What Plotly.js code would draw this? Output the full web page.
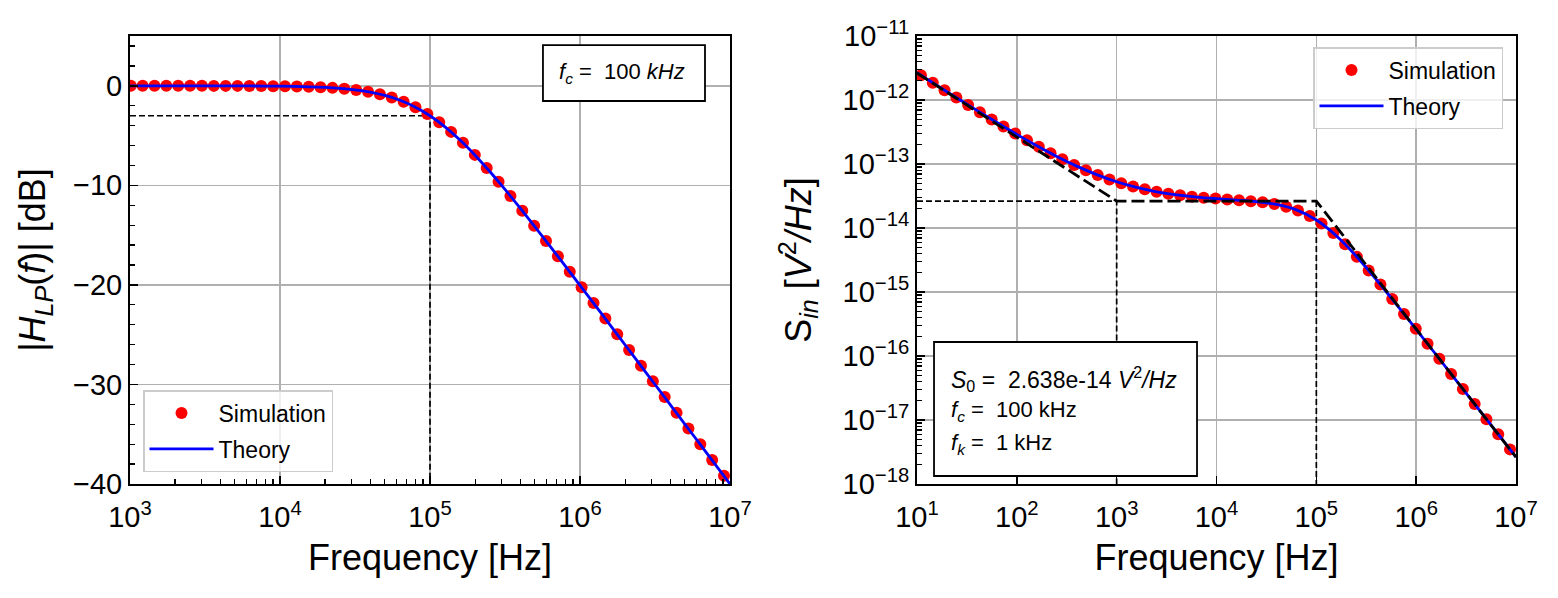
<!DOCTYPE html>
<html><head><meta charset="utf-8">
<script src="https://cdn.plot.ly/plotly-3.0.1.min.js"></script>
<style>html,body{margin:0;padding:0;background:#fff}#chart{width:1558px;height:598px}</style>
</head><body><div id="chart"></div>
<script>
// ---------- Left panel: low-pass transfer function ----------
const lpSimFreq = [1012, 1214, 1457, 1747, 2096, 2515, 3017, 3620, 4343, 5211,
  6252, 7501, 9000, 10797, 12954, 15541, 18646, 22371, 26840, 32200,
  38637, 46355, 55615, 66725, 80054, 96050, 115239, 138260, 165880, 199020,
  238780, 286480, 343710, 412370, 494750, 593590, 712170, 854440, 1025000, 1230000,
  1476000, 1771000, 2125000, 2550000, 3059000, 3670000, 4403000, 5282000, 6338000, 7604000, 9120000];
const lpSimGain = [0.00, 0.00, 0.00, 0.00, 0.00, 0.00, 0.00, -0.01, -0.01, -0.01,
  -0.02, -0.02, -0.04, -0.05, -0.07, -0.10, -0.15, -0.21, -0.30, -0.43,
  -0.60, -0.85, -1.17, -1.60, -2.15, -2.83, -3.66, -4.63, -5.73, -6.94,
  -8.26, -9.64, -11.07, -12.55, -14.05, -15.58, -17.12, -18.68, -20.24, -21.81,
  -23.38, -24.95, -26.53, -28.11, -29.68, -31.26, -32.84, -34.42, -36.00, -37.58, -39.16];
const lpTheoryFreq = [1000, 1259, 1585, 1995, 2512, 3162, 3981, 5012, 6310, 7943,
  10000, 12589, 15849, 19953, 25119, 31623, 39811, 50119, 63096, 79433,
  100000, 125893, 158489, 199526, 251189, 316228, 398107, 501187, 630957, 794328,
  1000000, 1258925, 1584893, 1995262, 2511886, 3162278, 3981072, 5011872, 6309573, 7943282, 10000000];
const lpTheoryGain = [-0.0004, -0.0007, -0.0011, -0.0017, -0.0027, -0.0043, -0.0069, -0.0109, -0.0173, -0.0273,
  -0.0432, -0.0683, -0.1077, -0.1695, -0.2657, -0.4139, -0.6386, -0.9732, -1.455, -2.125,
  -3.010, -4.124, -5.455, -6.973, -8.639, -10.414, -12.266, -14.170, -16.108, -18.069,
  -20.043, -22.028, -24.017, -26.011, -28.007, -30.004, -32.003, -34.002, -36.001, -38.001, -40.000];
const lpCutoffFreq = 100000;
const lpCutoffGain = -3.01;
const lpGainMin = -40;
const lpFreqMin = 1000;
const lpXTickVals = [1e3, 1e4, 1e5, 1e6, 1e7];
const lpXTickText = ['10<sup>3</sup>', '10<sup>4</sup>', '10<sup>5</sup>', '10<sup>6</sup>', '10<sup>7</sup>'];
const lpYTickVals = [-40, -30, -20, -10, 0];
const lpYTickText = ['\u221240', '\u221230', '\u221220', '\u221210', '0'];

// ---------- Right panel: input noise PSD ----------
const psdSimFreq = [10.96, 14.39, 18.88, 24.77, 32.51, 42.66, 55.98, 73.45, 96.38, 126.5,
  166.0, 217.8, 285.8, 375.0, 492.0, 645.7, 847.2, 1112, 1459, 1914,
  2512, 3296, 4325, 5675, 7447, 9772, 12823, 16827, 22080, 28973,
  38019, 49888, 65464, 85901, 112720, 147910, 194090, 254680, 334190, 438530,
  575440, 755090, 990830, 1300200, 1706100, 2238700, 2937600, 3854800, 5058200, 6637400, 8709600];
const psdSimS = [2.432e-12, 1.860e-12, 1.424e-12, 1.091e-12, 8.38e-13, 6.45e-13, 4.975e-13, 3.855e-13, 3.001e-13, 2.350e-13,
  1.854e-13, 1.475e-13, 1.187e-13, 9.67e-14, 7.99e-14, 6.73e-14, 5.75e-14, 5.01e-14, 4.446e-14, 4.016e-14,
  3.685e-14, 3.436e-14, 3.241e-14, 3.092e-14, 2.976e-14, 2.881e-14, 2.798e-14, 2.718e-14, 2.629e-14, 2.518e-14,
  2.366e-14, 2.155e-14, 1.875e-14, 1.535e-14, 1.172e-14, 8.33e-15, 5.56e-15, 3.540e-15, 2.175e-15, 1.307e-15,
  7.75e-16, 4.55e-16, 2.663e-16, 1.553e-16, 9.04e-17, 5.25e-17, 3.053e-17, 1.775e-17, 1.031e-17, 5.99e-18, 3.477e-18];
const psdTheoryFreq = [10, 15.85, 25.12, 39.81, 63.1, 100, 158.5, 251.2, 398.1, 631,
  1000, 1585, 2512, 3981, 6310, 10000, 15849, 25119, 39811, 63096,
  100000, 158489, 251189, 398107, 630957, 1000000, 1584893, 2511886, 3981072, 6309573, 10000000];
const psdTheoryS = [2.664e-12, 1.691e-12, 1.076e-12, 6.89e-13, 4.445e-13, 2.902e-13, 1.929e-13, 1.314e-13, 9.26e-14, 6.82e-14,
  5.276e-14, 4.302e-14, 3.685e-14, 3.295e-14, 3.043e-14, 2.873e-14, 2.735e-14, 2.580e-14, 2.334e-14, 1.917e-14,
  1.332e-14, 7.56e-15, 3.623e-15, 1.569e-15, 6.47e-16, 2.615e-16, 1.047e-16, 4.175e-17, 1.664e-17, 6.63e-18, 2.638e-18];
const psdAsymFreq = [10, 1000, 100000, 10000000];
const psdAsymS = [2.638e-12, 2.638e-14, 2.638e-14, 2.638e-18];
const psdS0 = 2.638e-14;
const psdKneeFreq = 1000;
const psdCornerFreq = 100000;
const psdFreqMin = 10;
const psdSMin = 1e-18;
const psdXTickVals = [1e1, 1e2, 1e3, 1e4, 1e5, 1e6, 1e7];
const psdXTickText = ['10<sup>1</sup>', '10<sup>2</sup>', '10<sup>3</sup>', '10<sup>4</sup>', '10<sup>5</sup>', '10<sup>6</sup>', '10<sup>7</sup>'];
const psdYTickVals = [1e-18, 1e-17, 1e-16, 1e-15, 1e-14, 1e-13, 1e-12, 1e-11];
const psdYTickText = ['10<sup>\u221218</sup>', '10<sup>\u221217</sup>', '10<sup>\u221216</sup>', '10<sup>\u221215</sup>',
  '10<sup>\u221214</sup>', '10<sup>\u221213</sup>', '10<sup>\u221212</sup>', '10<sup>\u221211</sup>'];

// ---------- drawing ----------
const FONT = 'Liberation Sans, Arial, Helvetica, sans-serif';
function logMinor(d0, d1) { const v = []; for (let d = d0; d < d1; d++) for (let m = 2; m <= 9; m++) v.push(m * Math.pow(10, d)); return v; }
function linMinor(a, b, step) { const v = []; for (let t = a; t <= b; t += step) v.push(t); return v; }

const RED = '#ff0000', BLUE = '#0000ff';
const traces = [
  // left panel
  {x: [lpFreqMin, lpCutoffFreq, lpCutoffFreq], y: [lpCutoffGain, lpCutoffGain, lpGainMin], xaxis: 'x', yaxis: 'y',
   mode: 'lines', line: {color: 'black', width: 1.7, dash: '6px,3px'}, showlegend: false, hoverinfo: 'skip'},
  {x: lpSimFreq, y: lpSimGain, xaxis: 'x', yaxis: 'y', mode: 'markers', name: 'Simulation',
   marker: {color: RED, size: 12}, legend: 'legend', legendgroup: 'a'},
  {x: lpTheoryFreq, y: lpTheoryGain, xaxis: 'x', yaxis: 'y', mode: 'lines', name: 'Theory',
   line: {color: BLUE, width: 2.8, shape: 'spline'}, legend: 'legend', legendgroup: 'b'},
  // right panel
  {x: [psdFreqMin, psdKneeFreq, psdKneeFreq], y: [psdS0, psdS0, psdSMin], xaxis: 'x2', yaxis: 'y2',
   mode: 'lines', line: {color: 'black', width: 1.7, dash: '6px,3px'}, showlegend: false, hoverinfo: 'skip'},
  {x: [psdCornerFreq, psdCornerFreq], y: [psdS0, psdSMin], xaxis: 'x2', yaxis: 'y2',
   mode: 'lines', line: {color: 'black', width: 1.7, dash: '6px,3px'}, showlegend: false, hoverinfo: 'skip'},
  {x: psdSimFreq, y: psdSimS, xaxis: 'x2', yaxis: 'y2', mode: 'markers', name: 'Simulation',
   marker: {color: RED, size: 12}, legend: 'legend2', legendgroup: 'c'},
  {x: psdTheoryFreq, y: psdTheoryS, xaxis: 'x2', yaxis: 'y2', mode: 'lines', name: 'Theory',
   line: {color: BLUE, width: 2.8, shape: 'spline'}, legend: 'legend2', legendgroup: 'd'},
  {x: psdAsymFreq, y: psdAsymS, xaxis: 'x2', yaxis: 'y2', mode: 'lines',
   line: {color: 'black', width: 2.8, dash: '13px,5px'}, showlegend: false, hoverinfo: 'skip'}
];

const axisCommon = {
  showline: true, linecolor: 'black', linewidth: 2, mirror: true,
  ticks: 'inside', ticklen: 8, tickwidth: 1.5, tickcolor: 'black',
  showgrid: true, gridcolor: '#b0b0b0', gridwidth: 1.5, zeroline: false,
  tickfont: {family: FONT, size: 29, color: 'black'}, automargin: false, tickmode: 'array'
};
const minorCommon = {ticks: 'inside', ticklen: 5, tickwidth: 1.3, tickcolor: 'black', showgrid: false, tickmode: 'array'};
const titleFont = {family: FONT, size: 36, color: 'black'};
const yDom = [0.1906, 0.9398];

const legendCommon = {
  bgcolor: 'rgba(255,255,255,0.8)', bordercolor: '#cccccc', borderwidth: 1.5,
  font: {family: FONT, size: 23, color: 'black'}, itemwidth: 64, tracegroupgap: 3
};

const layout = {
  width: 1558, height: 598,
  margin: {l: 0, r: 0, t: 0, b: 0},
  paper_bgcolor: 'white', plot_bgcolor: 'white',
  font: {family: FONT, color: 'black'},
  xaxis: Object.assign({}, axisCommon, {
    type: 'log', domain: [0.08344, 0.46855], range: [3, 7], anchor: 'y',
    tickvals: lpXTickVals, ticktext: lpXTickText, ticklabelstandoff: 6,
    minor: Object.assign({tickvals: logMinor(3, 7)}, minorCommon),
    title: {text: 'Frequency [Hz]', font: titleFont, standoff: 13}
  }),
  yaxis: Object.assign({}, axisCommon, {
    domain: yDom, range: [-40, 5], anchor: 'x',
    tickvals: lpYTickVals, ticktext: lpYTickText,
    minor: Object.assign({tickvals: linMinor(-38, 4, 2)}, minorCommon),
    title: {text: '|<i>H</i><sub><i>LP</i></sub>(<i>f</i>)| [dB]', font: titleFont, standoff: 16}
  }),
  xaxis2: Object.assign({}, axisCommon, {
    type: 'log', domain: [0.58857, 0.97304], range: [1, 7], anchor: 'y2',
    tickvals: psdXTickVals, ticktext: psdXTickText, ticklabelstandoff: 6,
    title: {text: 'Frequency [Hz]', font: titleFont, standoff: 13}
  }),
  yaxis2: Object.assign({}, axisCommon, {
    type: 'log', domain: yDom, range: [-18, -11], anchor: 'x2',
    tickvals: psdYTickVals, ticktext: psdYTickText,
    minor: Object.assign({tickvals: logMinor(-18, -11)}, minorCommon),
    title: {text: 'S<sub><i>in</i></sub> [<i>V</i><sup>2</sup><i>/Hz</i>]', font: titleFont, standoff: 20}
  }),
  legend: Object.assign({}, legendCommon, {x: 0.0918, xanchor: 'left', y: 0.2107, yanchor: 'bottom'}),
  legend2: Object.assign({}, legendCommon, {x: 0.9647, xanchor: 'right', y: 0.9214, yanchor: 'top'}),
  shapes: [
    {type: 'rect', xref: 'paper', yref: 'paper', x0: 0.3485, x1: 0.4525, y0: 0.8311, y1: 0.9247,
     line: {color: 'black', width: 1.8}, fillcolor: 'white', layer: 'above'},
    {type: 'rect', xref: 'paper', yref: 'paper', x0: 0.5995, x1: 0.7683, y0: 0.2040, y1: 0.4281,
     line: {color: 'black', width: 1.8}, fillcolor: 'white', layer: 'above'}
  ],
  annotations: [
    {xref: 'paper', yref: 'paper', x: 0.3992, y: 0.8779, xanchor: 'center', yanchor: 'middle', showarrow: false,
     text: '<i>f</i><sub><i>c</i></sub> =  100 <i>kHz</i>', font: {family: FONT, size: 22, color: 'black'}},
    {xref: 'paper', yref: 'paper', x: 0.6091, y: 0.3662, xanchor: 'left', yanchor: 'middle', showarrow: false,
     text: '<i>S</i><sub>0</sub> =  2.638e-14 <i>V</i><sup>2</sup><i>/Hz</i>', font: {family: FONT, size: 23, color: 'black'}},
    {xref: 'paper', yref: 'paper', x: 0.6091, y: 0.3127, xanchor: 'left', yanchor: 'middle', showarrow: false,
     text: '<i>f</i><sub><i>c</i></sub> =  100 kHz', font: {family: FONT, size: 22, color: 'black'}},
    {xref: 'paper', yref: 'paper', x: 0.6091, y: 0.2575, xanchor: 'left', yanchor: 'middle', showarrow: false,
     text: '<i>f</i><sub><i>k</i></sub> =  1 kHz', font: {family: FONT, size: 22, color: 'black'}}
  ]
};

Plotly.newPlot('chart', traces, layout, {displayModeBar: false, staticPlot: true});
</script>
</body></html>
